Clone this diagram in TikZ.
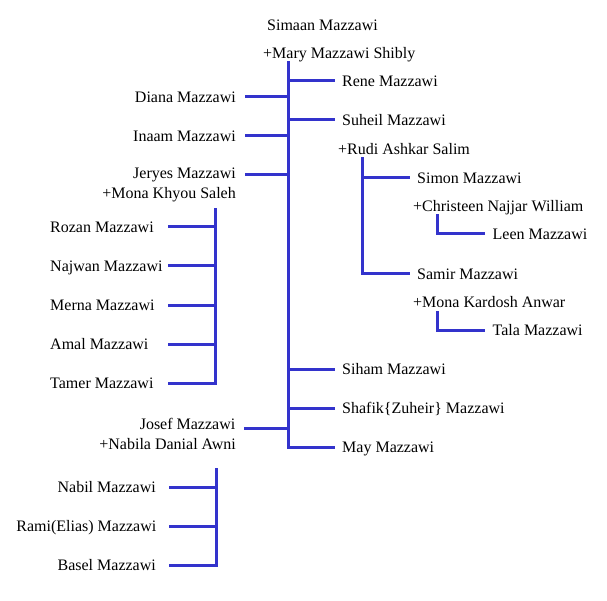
\documentclass[tikz,border=0pt]{standalone}
\usepackage{fontspec}
\setmainfont{Liberation Serif}
\usetikzlibrary{calc}
\definecolor{linkblue}{RGB}{51,51,204}
\begin{document}
\begin{tikzpicture}[x=1pt,y=-1pt,
  txt/.style={inner sep=0pt, text height=10.6pt, text depth=0pt, font=\fontsize{16}{19}\selectfont},
  lt/.style={txt, anchor=west},
  rt/.style={txt, anchor=east},
  link/.style={draw=linkblue, line width=3pt, line cap=rect}]
\useasboundingbox (0,0) rectangle (607,601);
% root
\node[lt] (simaan) at (267,25) {Simaan Mazzawi};
\node[lt] (mary) at (263,53.3) {+Mary Mazzawi Shibly};
% left children of root
\node[rt] (diana) at (236,97) {Diana Mazzawi};
\node[rt] (inaam) at (236,136) {Inaam Mazzawi};
\node[rt] (jeryes) at (236,173) {Jeryes Mazzawi};
\node[rt] (monak) at (236,193) {+Mona Khyou Saleh};
\node[rt] (josef) at (235.5,424) {Josef Mazzawi};
\node[rt] (nabila) at (236,444) {+Nabila Danial Awni};
% right children of root
\node[lt] (rene) at (342,81) {Rene Mazzawi};
\node[lt] (suheil) at (342,120) {Suheil Mazzawi};
\node[lt] (rudi) at (338,149) {+Rudi Ashkar Salim};
\node[lt] (siham) at (342,369) {Siham Mazzawi};
\node[lt] (shafik) at (342,408) {Shafik\{Zuheir\} Mazzawi};
\node[lt] (may) at (342,447) {May Mazzawi};
% Jeryes children
\node[lt] (rozan) at (50,227) {Rozan Mazzawi};
\node[lt] (najwan) at (50,266) {Najwan Mazzawi};
\node[lt] (merna) at (50,305) {Merna Mazzawi};
\node[lt] (amal) at (50,344) {Amal Mazzawi};
\node[lt] (tamer) at (50,383) {Tamer Mazzawi};
% Josef children
\node[rt] (nabil) at (156,487) {Nabil Mazzawi};
\node[rt] (rami) at (156.5,526) {Rami(Elias) Mazzawi};
\node[rt] (basel) at (156,565) {Basel Mazzawi};
% Suheil children
\node[lt] (simon) at (417,178) {Simon Mazzawi};
\node[lt] (christeen) at (413,206) {+Christeen Najjar William};
\node[lt] (leen) at (492.5,234) {Leen Mazzawi};
\node[lt] (samir) at (417,274) {Samir Mazzawi};
\node[lt] (monakd) at (413,302) {+Mona Kardosh Anwar};
\node[lt] (tala) at (492.5,330) {Tala Mazzawi};
% junction coordinates
\coordinate (trunktop) at (288,63);
\coordinate (trunkbot) at (288,447);
\coordinate (jtop) at (215,210);
\coordinate (jbot) at (215,383);
\coordinate (ftop) at (216.5,469);
\coordinate (fbot) at (216.5,565);
\coordinate (stop) at (362.5,159);
\coordinate (sbot) at (362.5,274);
\coordinate (ltop) at (437,216);
\coordinate (ttop) at (437,312);
% main trunk
\draw[link] (trunktop) -- (trunkbot);
\foreach \n in {rene,suheil,siham,shafik,may}
  \draw[link] (trunktop |- \n.west) -- ($(\n.west)+(-9,0)$);
\draw[link] (trunktop |- diana.east) -- ($(diana.east)+(10,0)$);
\draw[link] (trunktop |- inaam.east) -- ($(inaam.east)+(10,0)$);
\draw[link] ($(trunktop |- jeryes.east)+(0,2)$) -- ($(jeryes.east)+(10,2)$);
\draw[link] ($(trunktop |- josef.east)+(0,4)$) -- ($(josef.east)+(10,4)$);
% Jeryes children
\draw[link] (jtop) -- (jbot);
\foreach \n in {rozan,najwan,merna,amal,tamer}
  \draw[link] (jtop |- \n.west) -- ($(jtop |- \n.west)+(-46,0)$);
% Josef children
\draw[link] (ftop) -- (fbot);
\foreach \n in {nabil,rami,basel}
  \draw[link] (ftop |- \n.east) -- ($(nabil.east |- \n.east)+(14,0)$);
% Suheil children
\draw[link] (stop) -- (sbot);
\draw[link] (stop |- simon.west) -- ($(simon.west)+(-8.5,0)$);
\draw[link] (stop |- samir.west) -- ($(samir.west)+(-8.5,0)$);
% grandchildren
\draw[link] (ltop) -- (ltop |- leen.west) -- ($(leen.west)+(-9.5,0)$);
\draw[link] (ttop) -- (ttop |- tala.west) -- ($(tala.west)+(-9.5,0)$);
\end{tikzpicture}
\end{document}
